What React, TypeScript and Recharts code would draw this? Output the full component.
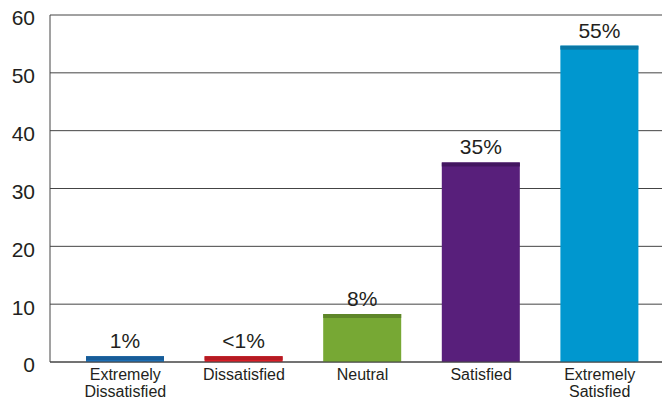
import * as React from "react"
import { BarChart, Bar, XAxis, YAxis, CartesianGrid, LabelList, Cell } from "recharts"

// --- Data ---
const categories = ["Extremely Dissatisfied", "Dissatisfied", "Neutral", "Satisfied", "Extremely Satisfied"]
const values = [1, 1, 8.3, 34.5, 54.7]
const valueLabels = ["1%", "<1%", "8%", "35%", "55%"]
const yTicks = [0, 10, 20, 30, 40, 50, 60]

// --- Theme ---
const COLORS = ["#1f74bd", "#e4212b", "#77a834", "#581f7b", "#0097cf"]
const TOP_COLORS = ["#175c98", "#b51a22", "#5e8629", "#431660", "#0a78a6"]
const FONT = "'Liberation Sans', Arial, sans-serif"

const data = categories.map((name, i) => ({ name, value: values[i], label: valueLabels[i] }))

const BarShape = (props: any) => {
  const { x, y, width, height, index } = props
  if (!height || height <= 0) return null
  const strip = Math.min(4, height)
  return (
    <g>
      <rect x={x} y={y} width={width} height={height} fill={COLORS[index]} />
      <rect x={x} y={y} width={width} height={strip} fill={TOP_COLORS[index]} />
    </g>
  )
}

const XTick = (props: any) => {
  const { x, y, payload } = props
  const lines = String(payload.value).split(" ")
  return (
    <text x={x} y={y} textAnchor="middle" fontFamily={FONT} fontSize={16} fill="#231f20">
      {lines.map((l: string, i: number) => (
        <tspan key={i} x={x} dy={i === 0 ? 10 : 17}>{l}</tspan>
      ))}
    </text>
  )
}

export default function App() {
  return (
    <div style={{ position: "absolute", left: 0, top: 0, width: 663, height: 402, background: "#fff" }}>
      <BarChart width={663} height={402} data={data} margin={{ top: 15, right: 1, bottom: 0, left: 0 }} barCategoryGap={0}>
        <CartesianGrid vertical={false} stroke="#444" strokeWidth={1} />
        <XAxis
          dataKey="name"
          height={40}
          padding={{ left: 16, right: 3 }}
          axisLine={{ stroke: "#444" }}
          tickLine={false}
          interval={0}
          tick={<XTick />}
        />
        <YAxis
          width={50}
          domain={[0, 60]}
          ticks={yTicks}
          axisLine={{ stroke: "#444" }}
          tickLine={false}
          tick={{ fill: "#231f20", fontSize: 21, fontFamily: FONT, dy: 3 }}
          tickMargin={9}
        />
        <Bar dataKey="value" barSize={78} isAnimationActive={false} shape={<BarShape />}>
          {data.map((_, i) => (
            <Cell key={`cell-${i}`} fill={COLORS[i]} />
          ))}
          <LabelList dataKey="label" position="top" offset={8} fill="#231f20" fontSize={21} fontFamily={FONT} />
        </Bar>
      </BarChart>
    </div>
  )
}
